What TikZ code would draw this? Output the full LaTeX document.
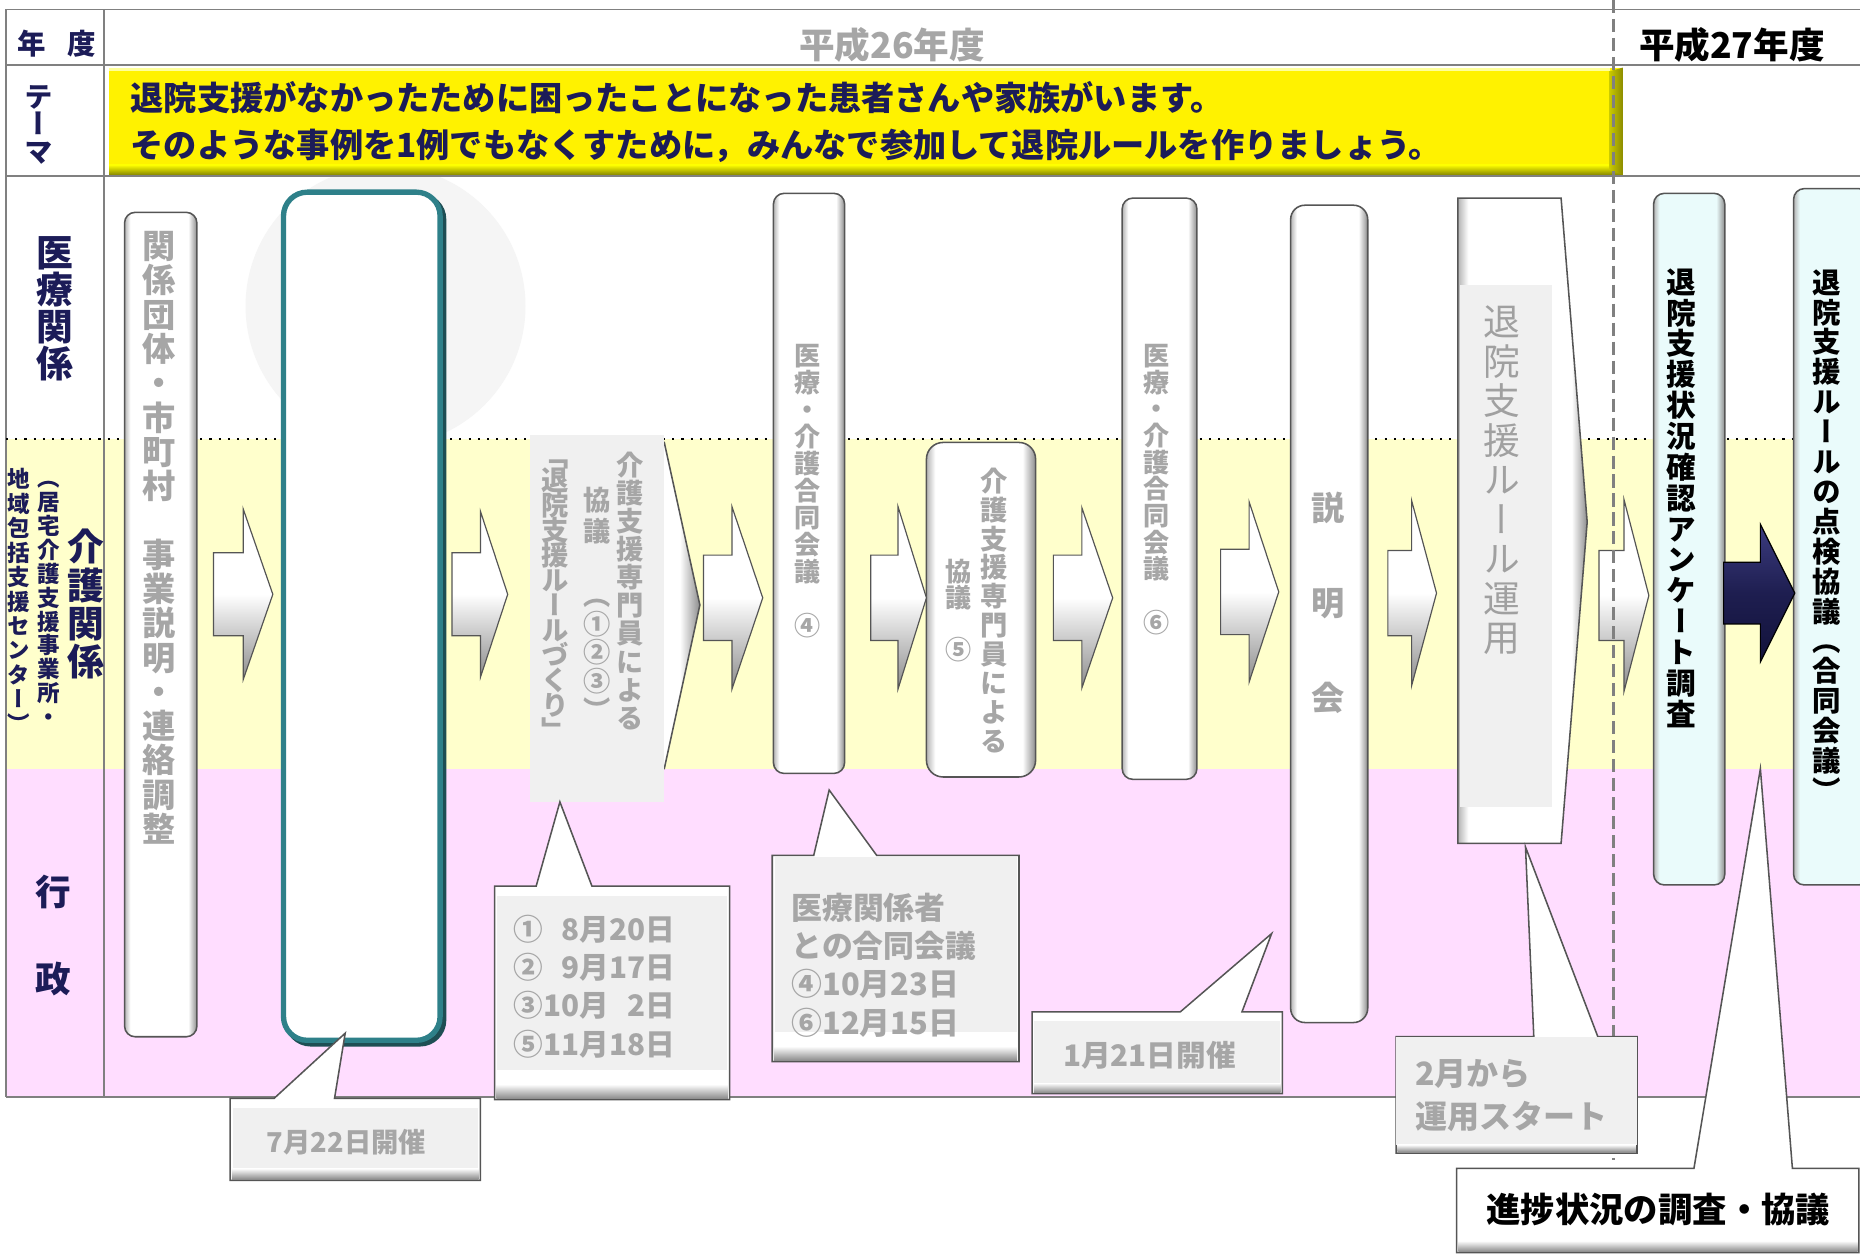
\documentclass[tikz,border=0pt]{standalone}
\usepackage{fontspec}
\setmainfont{Noto Sans CJK JP}
\newfontfamily\jpv{Noto Sans CJK JP}[RawFeature=+vert]
\definecolor{navy}{HTML}{1C1C58}
\definecolor{txtgray}{HTML}{A6A6A6}
\definecolor{txtgrayH}{HTML}{A0A0A0}
\definecolor{lineg}{HTML}{808080}
\definecolor{bandY}{HTML}{FFFFCC}
\definecolor{bandP}{HTML}{FFDDFF}
\definecolor{boxg}{HTML}{F0F0F0}
\definecolor{edge}{HTML}{555555}
\definecolor{bevL}{HTML}{B4B4B4}
\definecolor{bevR}{HTML}{8C8C8C}
\definecolor{bevM}{HTML}{A0A0A0}
\definecolor{lblue}{HTML}{EAFBFB}
\definecolor{tealc}{HTML}{2E8089}
\definecolor{tealD}{HTML}{1E4E54}
\definecolor{navyA}{HTML}{1E1E50}
\definecolor{navyL}{HTML}{3C3C80}
\definecolor{navyD}{HTML}{12123A}
\definecolor{wm}{HTML}{F5F5F5}
\definecolor{yDark}{HTML}{8C8C00}
\definecolor{yMid}{HTML}{C8C800}
\definecolor{yLight}{HTML}{FFFF99}
\pgfdeclarehorizontalshading{pillW}{100bp}{color(0bp)=(bevL); color(25bp)=(bevL); color(29bp)=(white); color(69bp)=(white); color(75bp)=(bevR); color(100bp)=(bevR)}
\pgfdeclarehorizontalshading{pillB}{100bp}{color(0bp)=(bevL); color(25bp)=(bevL); color(29bp)=(lblue); color(69bp)=(lblue); color(75bp)=(bevR); color(100bp)=(bevR)}
\def\vtend{VTEND}
\def\vsp{\hphantom{国}}
\newcommand\vt[3]{\vbox{\fontsize{#1pt}{#2pt}\selectfont\baselineskip=#2pt\relax\lineskiplimit=-1000pt\relax\lineskip=0pt\relax\vtA#3\vtend}}
\def\vtA#1{\ifx#1\vtend\else\hbox to 1.2em{\hss\vphantom{国}#1\hss}\expandafter\vtA\fi}
\newcommand\blockarrow[7][arrowst]{\draw[#1] (#2,#5-#6) -- (#3,#5-#6) -- (#3,#5-#7) -- (#4,#5) -- (#3,#5+#7) -- (#3,#5+#6) -- (#2,#5+#6) -- cycle;}
\begin{document}
\begin{tikzpicture}[x=1pt,y=-1pt,
  grid/.style={draw=lineg, line width=1.6pt},
  pill/.style={draw=edge, line width=1.3pt, rounded corners=9pt, shade, shading=pillW, inner sep=0pt},
  bpill/.style={pill, shading=pillB},
  arrowst/.style={draw=edge, line width=1pt, top color=white, bottom color=bevR, middle color=white},
  darrow/.style={draw=black, line width=1pt, top color=navyL, bottom color=navyD, middle color=navyA},
  callout/.style={draw=edge, line width=1.3pt, fill=white},
  bevelstrip/.style={top color=white, bottom color=bevR},
  vtxt/.style={inner sep=0pt, font=\jpv\bfseries, text=txtgray},
  vlbl/.style={inner sep=0pt, font=\jpv\bfseries, text=navy},
  htxt/.style={inner sep=0pt, font=\bfseries, text=txtgray},
  hlbl/.style={inner sep=0pt, font=\bfseries, text=navy}]
\useasboundingbox (0,0) rectangle (1568,1059);
\fill[white] (0,0) rectangle (1568,1059);
% watermark
\fill[wm] (325,258) circle [radius=118];
% bands
\fill[bandY] (5,370) rectangle (1568,648);
\fill[bandP] (5,648) rectangle (1568,925);
% grid
\draw[grid] (5,8) -- (1568,8);
\draw[grid] (5,55) -- (1568,55);
\draw[grid] (5,148) -- (1568,148);
\draw[grid] (5,925) -- (1568,925);
\draw[grid] (5,8) -- (5,925);
\draw[grid] (88,8) -- (88,925);
\draw[black, line width=1.8pt, dash pattern=on 1.8pt off 6pt] (5,370) -- (1568,370);
% header texts
\node[hlbl, font=\bfseries\fontsize{24pt}{28pt}\selectfont] (nen) at (27,37) {年};
\node[hlbl, font=\bfseries\fontsize{24pt}{28pt}\selectfont] (dohdr) at (69,37) {度};
\node[htxt, font=\bfseries\fontsize{30pt}{34pt}\selectfont] (h26) at (752,38) {平成26年度};
\node[hlbl, text=black, font=\bfseries\fontsize{30pt}{34pt}\selectfont] (h27) at (1460,38) {平成27年度};
% theme box
\fill[yellow] (92,57) rectangle (1368,147);
\shade[top color=yellow, bottom color=yDark] (92,139) rectangle (1368,147);
\shade[left color=yMid, right color=yDark] (1357,60) -- (1368,57) -- (1368,147) -- (1357,143) -- cycle;
\fill[yLight] (92,57) rectangle (1357,59.5);
\node[hlbl, anchor=west, font=\bfseries\fontsize{28pt}{34pt}\selectfont] (th1) at (110,82) {退院支援がなかったために困ったことになった患者さんや家族がいます。};
\node[hlbl, anchor=west, font=\bfseries\fontsize{28pt}{34pt}\selectfont] (th2) at (110,123) {そのような事例を1例でもなくすために，みんなで参加して退院ルールを作りましょう。};
% row labels
\node[vlbl] (lthema) at (33,105) {\vt{24}{23}{テーマ}};
\node[vlbl] (liryo) at (46,260) {\vt{31}{31.3}{医療関係}};
\node[vlbl] (lkaigo) at (72,509.5) {\vt{31}{32.3}{介護関係}};
\node[vlbl] (lkaigo2) at (41,504) {\vt{19}{20.2}{（居宅介護支援事業所・}};
\node[vlbl] (lkaigo3) at (16,507) {\vt{19}{20.6}{地域包括支援センター）}};
\node[hlbl, font=\bfseries\fontsize{30pt}{34pt}\selectfont] (lgyo) at (45,752) {行};
\node[hlbl, font=\bfseries\fontsize{30pt}{34pt}\selectfont] (lsei) at (45,825) {政};
% pills
\node[pill, minimum width=61pt, minimum height=695pt] (pA) at (135.5,526.5) {};
\node[vtxt] (tA) at (134,453.5) {\vt{28}{28.9}{関係団体・市町村\vsp 事業説明・連絡調整}};
\draw[tealD, line width=4.5pt, rounded corners=20pt] (242,165) rectangle (374,880);
\node[draw=tealc, line width=4.5pt, rounded corners=20pt, fill=white, minimum width=132pt, minimum height=715pt, inner sep=0pt] (pB) at (305,519.5) {};
% pentagon C
\draw[draw=edge, line width=1.3pt, shade, shading=pillW] (449,373) -- (560,373) -- (590,510) -- (560,648) -- (449,648) -- cycle;
\fill[boxg] (447,367) rectangle (560,676);
\node[vtxt] (tC1) at (531,498.5) {\vt{23}{23.7}{介護支援専門員による}};
\node[vtxt] (tC2) at (503,435) {\vt{23}{26}{協議}};
\node[vtxt] (tC3) at (503,550.5) {\vt{23}{24.25}{（①②③）}};
\node[vtxt] (tC4) at (468,500) {\vt{23}{21}{「退院支援ルールづくり」}};
% D
\node[pill, minimum width=60pt, minimum height=489pt] (pD) at (682,407.5) {};
\node[vtxt] (tD) at (681,414) {\vt{22}{22.8}{医療・介護合同会議\vsp ④}};
% E
\node[pill, rounded corners=14pt, minimum width=92pt, minimum height=282pt] (pE) at (827,514) {};
\node[vtxt] (tE1) at (838,515) {\vt{23}{24.4}{介護支援専門員による}};
\node[vtxt] (tE2) at (808,515) {\vt{22}{22}{協議\vsp ⑤}};
% F
\node[pill, minimum width=63pt, minimum height=490pt] (pF) at (977.5,412) {};
\node[vtxt] (tF) at (975,412.5) {\vt{22}{22.5}{医療・介護合同会議\vsp ⑥}};
% G
\node[pill, rounded corners=12pt, minimum width=65pt, minimum height=689pt] (pG) at (1120.5,517.5) {};
\node[vtxt] (tG) at (1120,508) {\vt{28}{80}{説明会}};
% H pentagon
\draw[draw=edge, line width=1.3pt, shade, shading=pillW] (1229,167) -- (1316,167) -- (1338,440) -- (1316,711) -- (1229,711) -- cycle;
\fill[boxg] (1231,240) rectangle (1308,680);
\node[vtxt, font=\jpv, text=txtgrayH] (tH) at (1266,405) {\vt{31}{33.25}{退院支援ルール運用}};
% I, J
\node[bpill, minimum width=60pt, minimum height=583pt] (pI) at (1424,454.5) {};
\node[vtxt, text=black] (tI) at (1417,420) {\vt{25}{26}{退院支援状況確認アンケート調査}};
\node[bpill, minimum width=64pt, minimum height=587pt] (pJ) at (1544,452.5) {};
\node[vtxt, text=black] (tJ) at (1540,452.5) {\vt{24}{25.2}{退院支援ルールの点検協議（合同会議）}};
% arrows
\blockarrow{180}{205}{230}{501}{35}{72}
\blockarrow{381}{405}{428}{501}{35}{70}
\blockarrow{593}{617}{643}{504}{36}{77}
\blockarrow{734}{757}{781}{504}{36}{77}
\blockarrow{888}{912}{938}{504}{36}{76}
\blockarrow{1029}{1053}{1078}{499}{36}{76}
\blockarrow{1170}{1190}{1211}{500}{36}{78}
\blockarrow{1348}{1369}{1390}{502}{38}{81}
\blockarrow[darrow]{1453}{1484}{1513}{500}{26}{58}
% dashed year divider
\draw[lineg, line width=2.5pt, dash pattern=on 11pt off 5pt] (1360,0) -- (1360,978);
% callouts
\coordinate (t1) at (291,871);
\draw[callout] (194,926) -- (231,926) -- (t1) -- (282,926) -- (405,926) -- (405,995) -- (194,995) -- cycle;
\shade[bevelstrip] (195.5,985) rectangle (403.5,994);
\fill[boxg] (196,934) rectangle (403,985);
\node[htxt, font=\bfseries\fontsize{23pt}{28pt}\selectfont] (c1) at (292,963) {7月22日開催};
\coordinate (t2) at (472,676);
\draw[callout] (417,747) -- (452,747) -- (t2) -- (499,747) -- (615,747) -- (615,927) -- (417,927) -- cycle;
\shade[bevelstrip] (418.5,914) rectangle (613.5,926);
\fill[boxg] (419,755) rectangle (613,902);
\node[htxt, anchor=west, align=left, font=\bfseries\fontsize{25pt}{32.3pt}\selectfont] (c2) at (433,831.5) {①\hphantom{0}8月20日\\②\hphantom{0}9月17日\\③10月\hphantom{0}2日\\⑤11月18日};
\coordinate (t3) at (699,666);
\draw[callout] (651,721) -- (686,721) -- (t3) -- (739,721) -- (859,721) -- (859,895) -- (651,895) -- cycle;
\shade[bevelstrip] (652.5,882) rectangle (857.5,894);
\fill[boxg] (653,722.5) rectangle (857,870);
\node[htxt, anchor=west, align=left, font=\bfseries\fontsize{26pt}{32.3pt}\selectfont] (c3) at (667,813.5) {医療関係者\\との合同会議\\④10月23日\\⑥12月15日};
\coordinate (t4) at (1072,787);
\draw[callout] (870,853) -- (995,853) -- (t4) -- (1047,853) -- (1081,853) -- (1081,922) -- (870,922) -- cycle;
\shade[bevelstrip] (871.5,913) rectangle (1079.5,921);
\fill[boxg] (872,861) rectangle (1079,913);
\node[htxt, font=\bfseries\fontsize{25pt}{30pt}\selectfont] (c4) at (969,890) {1月21日開催};
\coordinate (t5) at (1286,714);
\draw[callout] (1177,874) -- (1293,874) -- (t5) -- (1347,874) -- (1380,874) -- (1380,972) -- (1177,972) -- cycle;
\fill[boxg] (1177,874) rectangle (1380,965);
\shade[bevelstrip] (1178,965) rectangle (1379,971);
\node[htxt, anchor=west, align=left, font=\bfseries\fontsize{27pt}{37pt}\selectfont] (c5) at (1193,923.5) {2月から\\運用スタート};
\coordinate (t6) at (1484,648);
\draw[callout] (1228,985) -- (1428,985) -- (t6) -- (1511,985) -- (1567,985) -- (1567,1056) -- (1228,1056) -- cycle;
\shade[bevelstrip] (1229.5,1046) rectangle (1566,1055);
\node[hlbl, text=black, font=\bfseries\fontsize{29pt}{34pt}\selectfont] (c6) at (1398,1020) {進捗状況の調査・協議};
\end{tikzpicture}
\end{document}
